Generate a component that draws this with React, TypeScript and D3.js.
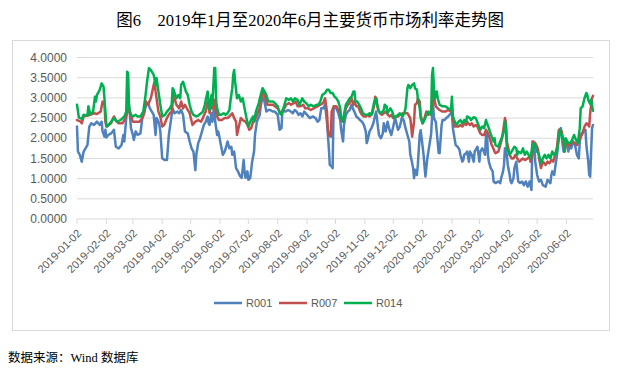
import React from 'react';
import * as d3 from 'd3';

// [calendar days since 2019-01-02, rate %]
const r001: [number, number][] = [
  [0,2.29],[1,1.67],[3,1.59],[5,1.42],[7,1.67],[9,1.75],[11,1.83],[13,2.29],[15,2.37],[18,2.33],[21,2.41],[24,2.33],[26,2.41],[27,2.17],[29,2.04],[30,2.21],[31,2.02],[33,2.08],[36,2.12],[39,2.21],[41,1.79],[44,1.75],[47,1.83],[49,2.08],[50,1.92],[52,2.5],[53,2.7],[55,2.83],[57,2.25],[59,2.08],[60,1.96],[62,2.17],[64,2.08],[67,2.12],[69,2.5],[71,2.66],[73,2.83],[75,2.87],[77,2.74],[79,2.66],[81,2.58],[83,2.08],[84,2.5],[86,2.41],[87,2.33],[88,2.17],[90,1.5],[93,1.46],[95,1.46],[97,2.08],[99,2.41],[101,2.74],[103,2.62],[106,2.66],[108,2.62],[110,2.7],[112,2.58],[114,2.17],[117,2.12],[119,1.92],[121,1.75],[123,1.67],[125,1.21],[126,1.59],[128,1.88],[130,2.0],[132,2.17],[134,2.33],[136,2.41],
  [138,2.54],[139,2.37],[140,2.33],[142,2.62],[143,2.41],[145,2.83],[146,2.41],[148,2.08],[149,2.17],[150,2.08],[152,1.83],[154,1.59],[156,1.67],[158,1.83],[159,1.92],[161,1.75],[163,1.79],[164,1.59],[166,1.67],[168,1.26],[170,1.18],[172,1.07],[174,1.02],[176,1.46],[177,1.18],[178,1.02],[180,1.18],[181,0.97],[183,1.02],[185,1.42],[187,1.67],[188,2.08],[190,2.41],[193,2.58],[194,2.79],[196,3.03],[198,2.91],[200,2.66],[202,2.7],[204,2.7],[207,2.66],[209,2.66],[212,2.58],[214,2.21],[216,2.25],[217,2.7],[220,2.66],[223,2.7],[226,2.66],[228,2.62],[230,2.7],[232,2.66],[234,2.58],[236,2.62],[238,2.54],[240,2.66],[243,2.58],[246,2.5],[249,2.54],[252,2.5],[254,2.41],[256,2.45],[258,2.74],[260,2.74],[262,2.83],[264,2.41],[266,1.75],[267,1.34],[269,1.3],[270,1.26],[271,2.74],[272,2.74],[274,2.74],
  [276,2.62],[278,2.45],[279,2.21],[281,1.92],[282,2.33],[284,2.58],[286,2.66],[288,2.7],[290,2.83],[292,2.7],[293,2.66],[295,2.54],[297,2.5],[299,2.45],[301,2.41],[303,2.33],[305,2.17],[306,1.88],[307,1.96],[309,2.17],[311,2.25],[313,2.37],[315,2.58],[316,2.66],[318,2.25],[319,2.08],[321,2.0],[323,2.12],[324,2.37],[326,2.17],[328,2.41],[330,2.21],[332,2.08],[334,2.29],[336,2.5],[337,2.41],[339,2.21],[341,2.29],[343,2.5],[345,2.45],[347,2.25],[349,2.08],[351,1.92],[352,1.59],[353,1.5],[355,1.26],[356,1.01],[357,1.22],[359,1.09],[360,1.34],[362,2.1],[363,2.2],[366,1.6],[368,1.05],[370,1.5],[372,1.8],[374,2.1],[376,2.9],[377,2.5],[379,2.4],[381,1.9],[382,1.64],[383,1.63],[385,2.3],[386,2.45],[388,2.45],[390,2.5],[392,2.54],[395,2.62],[396,2.66],[397,2.25],[399,1.96],[400,1.83],[402,1.79],[404,1.71],[405,1.59],[407,1.42],[408,1.46],[409,1.59],[411,1.63],
  [412,1.67],[414,1.42],[415,1.67],[417,1.59],[419,1.42],[420,1.67],[422,1.75],[423,1.79],[425,1.42],[426,1.67],[428,1.75],[429,1.71],[431,1.59],[432,2.08],[433,2.17],[434,1.59],[435,1.42],[437,1.26],[439,1.18],[440,0.93],[442,0.89],[445,0.93],[447,0.89],[448,1.01],[450,1.18],[451,1.34],[452,1.75],[454,1.59],[455,1.34],[457,1.09],[458,0.93],[459,0.89],[461,1.01],[462,1.26],[464,1.42],[465,1.18],[466,0.93],[468,0.89],[470,0.93],[472,0.84],[474,0.93],[476,0.8],[478,0.93],[480,0.72],[481,1.92],[483,1.83],[484,1.42],[486,1.09],[488,0.93],[490,0.97],[492,0.84],[495,0.8],[496,0.89],[497,0.97],[500,0.89],[501,1.09],[502,1.18],[504,1.09],[505,1.26],[507,1.59],[509,2.17],[511,2.25],[513,1.83],[514,1.67],[516,1.88],[518,1.83],[519,1.67],[520,1.83],[522,1.75],[524,1.92],[526,1.83],[528,1.59],[530,1.5],[531,1.92],[533,2.12],[535,2.17],[537,2.21],[538,1.83],[540,1.42],[541,1.09],[542,1.05],[544,2.25],[545,2.33],
];

const r007: [number, number][] = [
  [0,2.45],[4,2.41],[5,2.37],[7,2.54],[11,2.56],[14,2.58],[18,2.62],[21,2.6],[25,2.66],[27,2.91],[29,2.83],[30,2.41],[31,2.29],[36,2.37],[39,2.54],[41,2.45],[44,2.37],[48,2.37],[50,2.45],[53,2.62],[55,2.74],[57,2.54],[59,2.41],[62,2.41],[66,2.41],[69,2.5],[71,2.62],[73,2.91],[75,2.83],[78,2.99],[81,3.32],[82,3.4],[83,3.16],[86,2.66],[88,2.54],[90,2.29],[92,2.33],[95,2.5],[98,2.62],[100,2.66],[102,3.07],[103,2.99],[105,2.83],[108,2.74],[110,2.91],[112,2.74],[114,2.83],[117,2.7],[119,2.62],[122,2.33],[125,2.41],[128,2.45],[131,2.41],[133,2.5],[135,2.62],[136,2.66],
  [138,2.91],[139,2.83],[140,2.62],[142,2.87],[143,2.74],[145,2.95],[146,2.74],[148,2.54],[150,2.45],[153,2.45],[156,2.5],[159,2.5],[161,2.54],[164,2.62],[166,2.5],[168,2.41],[169,2.08],[171,2.29],[173,2.5],[175,2.45],[178,2.41],[180,2.33],[182,2.21],[184,2.25],[186,2.41],[188,2.45],[190,2.58],[193,2.74],[195,3.03],[197,3.16],[199,2.99],[201,2.83],[204,2.83],[207,2.83],[209,2.79],[212,2.74],[214,2.66],[216,2.62],[219,2.74],[221,2.83],[224,2.87],[226,2.83],[229,2.87],[231,2.91],[233,2.79],[236,2.79],[239,2.83],[241,2.74],[244,2.74],[247,2.7],[250,2.74],[254,2.79],[257,2.83],[260,2.87],[262,2.99],[264,2.66],[265,2.21],[266,2.08],[268,2.04],[269,2.66],[271,2.79],[274,2.79],
  [276,2.7],[278,2.62],[279,2.45],[281,2.41],[282,2.54],[284,2.74],[286,2.83],[288,2.87],[290,2.99],[292,2.83],[293,2.91],[295,2.79],[297,2.79],[299,2.66],[301,2.58],[303,2.54],[305,2.54],[307,2.58],[309,2.54],[312,2.62],[314,2.83],[315,3.03],[316,2.99],[318,2.7],[320,2.62],[322,2.58],[324,2.62],[326,2.66],[327,2.62],[330,2.54],[332,2.58],[334,2.5],[337,2.54],[339,2.54],[341,2.58],[344,2.62],[346,2.62],[349,2.62],[352,2.5],[353,2.29],[354,2.04],[356,2.41],[357,2.83],[359,2.87],[360,2.99],[362,2.91],[363,2.58],[365,2.37],[367,2.5],[369,2.66],[371,2.58],[374,2.66],[375,2.83],[376,3.2],[378,2.91],[379,2.79],[381,2.74],[383,2.7],[386,2.66],[389,2.66],[392,2.7],[395,2.66],[396,2.74],[397,2.45],[399,2.29],[401,2.29],[403,2.29],[405,2.33],[407,2.29],[409,2.37],[411,2.33],
  [412,2.41],[413,2.37],[415,2.33],[417,2.37],[419,2.29],[421,2.33],[423,2.29],[426,2.12],[428,2.08],[430,2.08],[432,2.21],[434,2.12],[436,2.0],[438,1.83],[439,1.79],[441,1.67],[442,1.63],[445,1.67],[447,1.83],[449,2.0],[450,2.17],[452,2.5],[453,2.41],[454,1.92],[457,1.59],[459,1.5],[461,1.5],[463,1.59],[465,1.5],[467,1.42],[469,1.46],[471,1.5],[473,1.46],[476,1.5],[478,1.55],[479,1.42],[481,1.59],[482,1.92],[484,1.88],[486,1.79],[487,1.71],[488,1.5],[490,1.26],[492,1.42],[495,1.34],[497,1.42],[499,1.38],[501,1.46],[503,1.42],[505,1.59],[507,1.79],[509,2.21],[512,2.17],[514,1.83],[515,1.67],[517,1.88],[519,1.83],[521,1.83],[523,1.92],[526,1.88],[528,1.83],[530,1.92],[532,2.04],[534,2.12],[536,2.29],[538,2.37],[540,2.33],[541,2.29],[542,2.62],[544,2.99],[545,3.05],
];

const r014: [number, number][] = [
  [0,2.83],[2,2.51],[5,2.48],[7,2.58],[11,2.56],[12,2.79],[14,2.6],[17,2.66],[19,3.03],[20,2.91],[21,3.07],[24,3.2],[26,3.36],[28,3.28],[29,2.99],[31,2.33],[32,2.29],[36,2.41],[39,2.5],[42,2.41],[46,2.45],[50,2.54],[52,2.66],[53,3.65],[54,3.6],[55,2.74],[57,2.58],[59,2.54],[62,2.58],[64,2.54],[67,2.54],[70,2.66],[72,2.99],[74,3.4],[76,3.74],[78,3.69],[81,3.57],[83,3.32],[84,3.49],[86,3.16],[88,2.83],[90,2.54],[93,2.58],[95,2.66],[98,2.74],[100,2.83],[101,3.24],[102,3.2],[105,2.99],[107,3.07],[109,2.99],[110,3.32],[112,3.4],[113,3.32],[115,3.16],[117,3.07],[119,2.83],[121,2.66],[123,2.58],[126,2.54],[128,2.56],[131,2.62],[133,2.66],[135,2.83],[136,2.95],
  [138,3.16],[139,2.91],[140,2.7],[142,3.07],[143,2.83],[145,3.74],[146,3.74],[147,2.91],[148,2.74],[150,2.58],[152,2.58],[155,2.62],[157,2.58],[159,2.62],[161,2.7],[162,2.91],[164,3.24],[165,3.57],[166,3.69],[167,3.4],[169,2.99],[171,3.07],[173,2.91],[175,2.99],[177,2.74],[179,2.5],[181,2.29],[183,2.41],[186,2.54],[187,2.41],[189,2.66],[192,2.87],[194,3.07],[196,3.24],[198,3.16],[200,3.07],[202,2.91],[204,2.91],[207,2.91],[209,2.87],[212,2.79],[214,2.62],[216,2.58],[218,2.74],[221,2.99],[224,2.95],[226,2.99],[228,2.91],[230,2.99],[233,2.95],[235,2.83],[238,2.99],[240,2.91],[242,2.87],[245,2.79],[247,2.83],[250,2.79],[253,2.83],[255,2.83],[257,2.91],[259,3.07],[262,3.12],[264,3.2],[266,3.2],[268,3.12],[270,3.12],[272,3.03],[274,2.99],
  [276,2.91],[278,2.74],[279,2.5],[281,2.41],[282,2.58],[284,2.83],[286,2.91],[288,2.99],[290,3.03],[292,3.16],[293,3.16],[294,2.91],[296,2.91],[298,2.83],[300,2.74],[302,2.62],[305,2.58],[307,2.58],[309,2.62],[311,2.58],[313,2.79],[314,2.91],[316,2.99],[317,2.83],[319,2.66],[321,2.62],[324,2.7],[325,2.83],[327,2.79],[328,2.62],[331,2.74],[333,2.66],[335,2.5],[337,2.54],[339,2.58],[341,2.62],[344,2.54],[346,2.66],[347,2.74],[349,3.24],[350,3.32],[352,3.24],[354,3.32],[356,3.36],[357,3.24],[359,3.2],[360,2.99],[362,2.74],[363,2.5],[365,2.37],[367,2.45],[369,2.58],[371,2.66],[374,2.58],[375,3.57],[376,3.74],[377,3.24],[378,2.99],[380,3.16],[381,2.99],[383,2.83],[386,2.79],[389,2.79],[392,2.74],[395,2.7],[396,3.03],[397,2.54],[399,2.41],[401,2.33],[403,2.41],[405,2.45],[407,2.37],[409,2.45],[411,2.41],
  [412,2.54],[415,2.5],[416,2.45],[419,2.52],[421,2.5],[422,2.45],[424,2.33],[426,2.21],[428,2.29],[430,2.25],[432,2.45],[433,2.37],[435,2.25],[436,2.17],[438,2.04],[440,1.92],[441,2.0],[442,1.83],[445,1.79],[447,1.92],[449,2.04],[451,2.17],[452,2.41],[453,2.25],[454,1.75],[457,1.59],[459,1.67],[461,1.75],[462,1.79],[464,1.75],[465,1.59],[466,1.67],[469,1.63],[471,1.75],[473,1.59],[475,1.67],[477,1.59],[479,1.5],[481,1.83],[483,1.88],[485,1.75],[486,1.67],[488,1.59],[490,1.38],[492,1.5],[494,1.59],[496,1.5],[498,1.59],[500,1.5],[502,1.67],[504,1.59],[507,1.67],[509,2.0],[510,2.21],[512,2.08],[514,1.96],[515,1.67],[516,2.0],[519,1.88],[521,1.88],[523,1.96],[525,2.08],[527,1.96],[529,1.88],[531,2.25],[532,2.74],[534,2.79],[536,2.99],[538,3.12],[539,3.07],[540,2.95],[542,2.85],[543,2.95],[545,2.68],
];

const seriesNames = ['R001', 'R007', 'R014'];
const seriesColors = ['#4F81BD', '#C0504D', '#00B050'];
const yTicks = [0, 0.5, 1, 1.5, 2, 2.5, 3, 3.5, 4];
const title = '图6　2019年1月至2020年6月主要货币市场利率走势图';
const source = '数据来源：Wind 数据库';

const W = 619;
const H = 373;
const start = new Date(2019, 0, 2);
const toDate = (d: number) => d3.timeDay.offset(start, d);

export default function App() {
  const plot = { left: 77, right: 593, top: 57.5, bottom: 219 };
  const x = d3.scaleTime().domain([start, toDate(545)]).range([plot.left, plot.right]);
  const y = d3.scaleLinear().domain([0, 4]).range([plot.bottom, plot.top]);
  const line = d3.line<[number, number]>()
    .x(d => x(toDate(d[0])))
    .y(d => y(d[1]));
  // 月度刻度：每月2日
  const xTicks = d3.timeMonth.range(new Date(2019, 0, 1), toDate(546)).map(m => d3.timeDay.offset(m, 1));
  const fmt = d3.timeFormat('%Y-%m-%d');
  const all = [r001, r007, r014];

  const legendStart = 214;
  const legendStep = 65;

  return (
    <svg width={W} height={H} style={{ position: 'absolute', left: 0, top: 0, background: '#fff' }}>
      <text x={310} y={26} textAnchor="middle" fontSize={16.5}
        fontFamily="'Liberation Serif', 'Noto Sans CJK SC', serif" fill="#000">{title}</text>
      <rect x={12.5} y={40.5} width={597} height={290} fill="#fff" stroke="#d9d9d9" />
      {yTicks.map(t => (
        <g key={t}>
          <line x1={plot.left} x2={plot.right} y1={y(t)} y2={y(t)} stroke="#d9d9d9" strokeWidth={1} />
          <text x={67} y={y(t)} dy="0.35em" textAnchor="end" fontSize={12}
            fontFamily="'Liberation Sans', Arial, sans-serif" fill="#595959">{d3.format('.4f')(t)}</text>
        </g>
      ))}
      {xTicks.map(t => (
        <g key={+t}>
          <line x1={x(t)} x2={x(t)} y1={plot.bottom} y2={plot.bottom + 5} stroke="#d9d9d9" />
          <text transform={`translate(${x(t) + 5},${plot.bottom + 15}) rotate(-45)`} textAnchor="end"
            fontSize={11} fontFamily="'Liberation Sans', Arial, sans-serif" fill="#595959">{fmt(t)}</text>
        </g>
      ))}
      {all.map((s, i) => (
        <path key={seriesNames[i]} d={line(s) || ''} fill="none" stroke={seriesColors[i]}
          strokeWidth={2.5} strokeLinejoin="round" strokeLinecap="round" />
      ))}
      {seriesNames.map((n, i) => (
        <g key={n} transform={`translate(${legendStart + i * legendStep},303)`}>
          <line x1={0} x2={28} y1={0} y2={0} stroke={seriesColors[i]} strokeWidth={2.5} />
          <text x={32} y={0} dy="0.35em" fontSize={11}
            fontFamily="'Liberation Sans', Arial, sans-serif" fill="#595959">{n}</text>
        </g>
      ))}
      <text x={8} y={362} fontSize={12.5} fontFamily="'Liberation Serif', 'Noto Sans CJK SC', serif" fill="#000">{source}</text>
    </svg>
  );
}
